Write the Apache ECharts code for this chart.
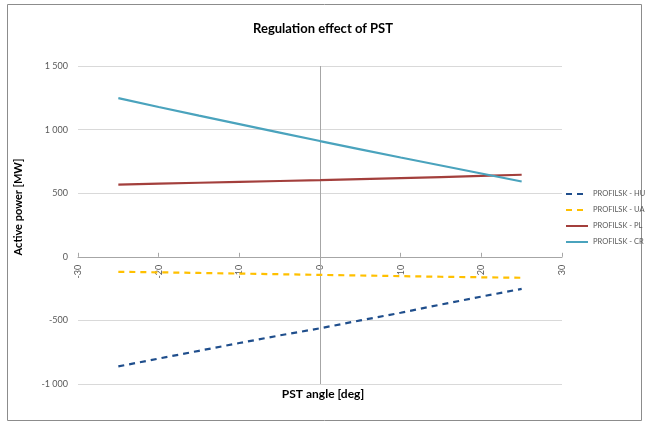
<!DOCTYPE html>
<html>
<head>
<meta charset="utf-8">
<script src="https://cdn.jsdelivr.net/npm/echarts@6/dist/echarts.min.js"></script>
<style>
  html, body { margin: 0; padding: 0; background: #fff; }
  #chart { width: 646px; height: 427px; }
</style>
</head>
<body>
<div id="chart"></div>
<script>
// PST angle [deg]
const angles = [-25, -20, -15, -10, -5, 0, 5, 10, 15, 20, 25];
// active power [MW] per profile
const profilHU = [-862, -800, -739, -678, -618, -562, -500, -440, -375, -313, -252];
const profilUA = [-118, -122, -127, -132, -137, -142, -147, -152, -157, -161, -165];
const profilPL = [568, 575, 582, 589, 596, 603, 611, 619, 627, 636, 645];
const profilCR = [1248, 1178, 1110, 1043, 976, 910, 845, 781, 718, 655, 592];

const seriesNames = ['PROFILSK - HU', 'PROFILSK - UA', 'PROFILSK - PL', 'PROFILSK - CR'];
const seriesData = [profilHU, profilUA, profilPL, profilCR];
const seriesColors = ['#1f4e8c', '#ffc000', '#a33f3c', '#4aa3bd'];
const seriesDash = ['dashed', 'dashed', 'solid', 'solid'];

const font = 'Lato, "Open Sans", sans-serif';

const chart = echarts.init(document.getElementById('chart'));

const series = seriesNames.map(function (name, i) {
  return {
    name: name,
    type: 'line',
    data: angles.map(function (a, j) { return [a, seriesData[i][j]]; }),
    symbol: 'none',
    lineStyle: {
      color: seriesColors[i],
      width: 2.2,
      type: seriesDash[i] === 'dashed' ? [6, 5] : 'solid'
    },
    itemStyle: { color: seriesColors[i] },
    z: 3
  };
});

// vertical line at angle 0
series[0].markLine = {
  silent: true,
  symbol: 'none',
  label: { show: false },
  lineStyle: { color: '#a6a6a6', width: 1, type: 'solid' },
  data: [{ xAxis: 0 }],
  z: 1
};

chart.setOption({
  animation: false,
  textStyle: { fontFamily: font },
  title: {
    text: 'Regulation effect of PST',
    left: 'center',
    top: 17,
    textStyle: { fontSize: 13, fontWeight: 'bold', color: '#000', fontFamily: font }
  },
  grid: { left: 78, right: 84, top: 66, bottom: 43, containLabel: false },
  legend: {
    orient: 'vertical',
    left: 560,
    top: 185,
    itemWidth: 22,
    itemHeight: 8,
    itemGap: 8,
    itemStyle: { opacity: 0 },
    textStyle: { fontSize: 7.5, color: '#595959', fontFamily: font },
    data: seriesNames
  },
  xAxis: {
    type: 'value',
    min: -30,
    max: 30,
    interval: 10,
    // sit the axis on the zero line of the value axis
    offset: -127.2,
    axisLine: { onZero: true, lineStyle: { color: '#a6a6a6' } },
    axisTick: { show: true, inside: true, length: 4, lineStyle: { color: '#a6a6a6' } },
    axisLabel: { rotate: 90, fontSize: 9, color: '#595959', margin: 8 },
    splitLine: { show: false }
  },
  yAxis: {
    type: 'value',
    min: -1000,
    max: 1500,
    interval: 500,
    axisLine: { show: false, onZero: false },
    axisTick: { show: false },
    axisLabel: {
      fontSize: 9,
      color: '#595959',
      margin: 10,
      formatter: function (v) {
        return String(v).replace(/\B(?=(\d{3})+(?!\d))/g, ' ');
      }
    },
    splitLine: { lineStyle: { color: '#d9d9d9' } }
  },
  graphic: [
    {
      type: 'rect',
      shape: { x: 7.5, y: 4.5, width: 634, height: 416 },
      style: { fill: 'none', stroke: '#8c8c8c', lineWidth: 1 },
      silent: true
    },
    {
      type: 'text',
      left: 'center',
      top: 388,
      style: { text: 'PST angle [deg]', fontSize: 12, fontWeight: 'bold', fill: '#000', fontFamily: font }
    },
    {
      type: 'text',
      x: 18,
      y: 207,
      rotation: Math.PI / 2,
      style: {
        text: 'Active power [MW]',
        fontSize: 11,
        fontWeight: 'bold',
        fill: '#000',
        fontFamily: font,
        align: 'center',
        verticalAlign: 'middle'
      }
    }
  ],
  series: series
});
</script>
</body>
</html>
